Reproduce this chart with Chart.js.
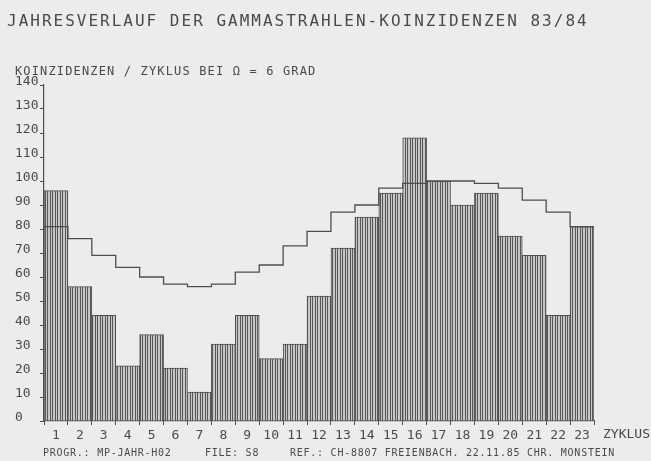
<!DOCTYPE html>
<html><head><meta charset="utf-8">
<script src="https://cdn.jsdelivr.net/npm/chart.js@4.4.0/dist/chart.umd.min.js"></script>
<style>
html,body{margin:0;padding:0;background:#ececea;}
#wrap{position:relative;width:651px;height:461px;overflow:hidden;background:#ececea;}
canvas{position:absolute;left:0;top:0;}
.t{position:absolute;font-family:"DejaVu Sans Mono",monospace;color:#4a4a4a;white-space:pre;}
</style></head><body>
<div id="wrap">
<canvas id="c" width="651" height="461"></canvas>
<div class="t" style="left:7px;top:13px;font-size:16px;line-height:16px;letter-spacing:2px;">JAHRESVERLAUF DER GAMMASTRAHLEN-KOINZIDENZEN 83/84</div>
<div class="t" style="left:15px;top:65px;font-size:12px;line-height:12px;letter-spacing:1.15px;">KOINZIDENZEN / ZYKLUS BEI Ω = 6 GRAD</div>
<div class="t" style="left:603px;top:427px;font-size:13px;line-height:13px;">ZYKLUS</div>
<div class="t" style="left:43px;top:448px;font-size:10px;line-height:10px;letter-spacing:0.75px;">PROGR.: MP-JAHR-H02</div>
<div class="t" style="left:205px;top:448px;font-size:10px;line-height:10px;letter-spacing:0.75px;">FILE: S8</div>
<div class="t" style="left:290px;top:448px;font-size:10px;line-height:10px;letter-spacing:0.75px;">REF.: CH-8807 FREIENBACH. 22.11.85 CHR. MONSTEIN</div>
</div>
<script>
// Data
const cycles = ['1','2','3','4','5','6','7','8','9','10','11','12','13','14','15','16','17','18','19','20','21','22','23'];
const coincidences = [96, 56, 44, 23, 36, 22, 12, 32, 44, 26, 32, 52, 72, 85, 95, 118, 100, 90, 95, 77, 69, 44, 81];
const reference = [81, 76, 69, 64, 60, 57, 56, 57, 62, 65, 73, 79, 87, 90, 97, 99, 100, 100, 99, 97, 92, 87, 81];
const yTicks = [0, 140, 10]; // min, max, step

const FONT = '"DejaVu Sans Mono", monospace';
const INK = '#4e4e4e';

function hatch() {
  const p = document.createElement('canvas');
  p.width = 5; p.height = 4;
  const g = p.getContext('2d');
  g.fillStyle = '#c6c6c4'; g.fillRect(0, 0, 5, 4);
  g.fillStyle = '#585858';
  g.fillRect(0, 0, 1, 4);
  g.fillRect(2, 0, 1, 4);
  return g.createPattern(p, 'repeat');
}

const stepData = reference.map((v, i) => ({ x: i + 0.5, y: v }));
stepData.push({ x: reference.length + 0.5, y: reference[reference.length - 1] });

new Chart(document.getElementById('c'), {
  type: 'bar',
  data: {
    labels: cycles,
    datasets: [
      {
        type: 'line', data: stepData, xAxisID: 'x2', yAxisID: 'y',
        stepped: true, borderColor: INK, borderWidth: 1.3, pointRadius: 0, fill: false, order: 0
      },
      {
        type: 'bar', data: coincidences, xAxisID: 'x', yAxisID: 'y',
        backgroundColor: hatch(), borderColor: INK, borderWidth: 1,
        barPercentage: 1, categoryPercentage: 1, grouped: false, order: 1
      }
    ]
  },
  options: {
    responsive: false, animation: false,
    layout: { padding: { left: 15, top: 85, right: 57, bottom: 16 } },
    plugins: { legend: { display: false }, tooltip: { enabled: false } },
    scales: {
      x: {
        type: 'category', offset: true,
        grid: { drawOnChartArea: false, drawTicks: true, tickLength: 4, color: INK, offset: true },
        border: { display: true, color: INK, width: 1.2 },
        ticks: { color: '#4a4a4a', font: { family: FONT, size: 13 }, padding: 3, autoSkip: false, maxRotation: 0 },
        afterFit: s => { s.height = 24; }
      },
      x2: { type: 'linear', min: 0.5, max: 23.5, offset: false, display: false, grid: { offset: false } },
      y: {
        min: yTicks[0], max: yTicks[1],
        ticks: { stepSize: yTicks[2], crossAlign: 'far', labelOffset: -3, padding: 2, color: '#4a4a4a', font: { family: FONT, size: 13 } },
        grid: { drawOnChartArea: false, tickLength: 4, color: INK },
        border: { display: true, color: INK, width: 1.2 },
        afterFit: s => { s.width = 29; }
      }
    }
  }
});
</script>
</body></html>
